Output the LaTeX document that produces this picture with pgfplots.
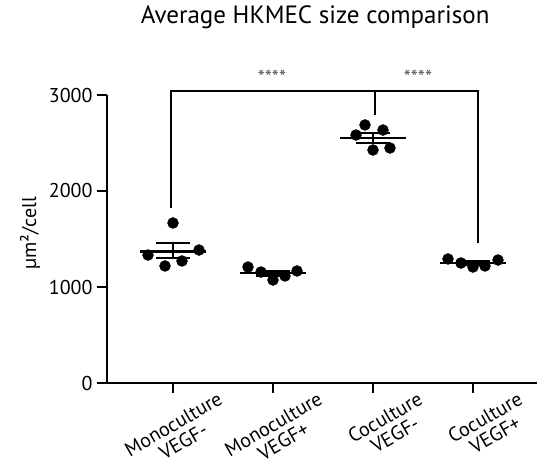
\documentclass[border=0pt]{standalone}
\usepackage{fontspec}
\setmainfont{PT Sans}
\usepackage{pgfplots}
\pgfplotsset{compat=1.18}

\begin{document}
\begin{tikzpicture}
\begin{axis}[
scale only axis,
width=430bp, height=288bp,
xmin=-0.66, xmax=3.64,
ymin=0, ymax=3000,
axis lines*=left,
axis line style={line width=2.4bp},
every tick/.style={line width=2.4bp, black},
major tick length=10bp,
tick align=outside,
clip=false,
xtick={0,1,2,3},
xticklabels={Monoculture\\VEGF-, Monoculture\\VEGF+, Coculture\\VEGF-, Coculture\\VEGF+},
xticklabel style={font=\fontsize{20bp}{20bp}\selectfont, align=center, anchor=north east, xshift=45bp, yshift=7bp, rotate=30},
ytick={0,1000,2000,3000},
yticklabel style={font=\fontsize{20bp}{20bp}\selectfont, xshift=-1bp},
/pgf/number format/assume math mode=true,
/pgf/number format/1000 sep={},
ylabel={µm²/cell},
ylabel style={font=\fontsize{20bp}{20bp}\selectfont, at={(axis description cs:-0.179,0.52)}, anchor=center},
title={Average HKMEC size comparison},
title style={font=\fontsize{25bp}{25bp}\selectfont, at={(axis description cs:0.484,1.25)}, anchor=center},
]
% individual values
\addplot[only marks, mark=*, mark size=5.5bp, black] coordinates {
(0,1667) (-0.25,1333) (-0.08,1219) (0.09,1271) (0.26,1385)
(0.75,1208) (0.88,1156) (1.0,1073) (1.12,1115) (1.24,1167)
(1.83,2583) (1.92,2688) (2.0,2427) (2.1,2635) (2.17,2448)
(2.75,1292) (2.88,1250) (3.0,1208) (3.12,1219) (3.25,1281)
};
% mean lines
\addplot[black, line width=2.4bp, unbounded coords=jump] coordinates {
(-0.33,1370) (0.33,1370) (0,nan)
(0.67,1146) (1.33,1146) (1,nan)
(1.67,2552) (2.33,2552) (2,nan)
(2.67,1250) (3.33,1250)
};
% SEM bars
\addplot[black, line width=2.4bp, unbounded coords=jump] coordinates {
(-0.17,1458) (0.17,1458) (0,nan) (0,1458) (0,1302) (0,nan) (-0.17,1302) (0.17,1302) (0,nan)
(0.83,1169) (1.17,1169) (1,nan) (0.83,1121) (1.17,1121) (1,nan)
(1.83,2604) (2.17,2604) (2,nan) (2,2604) (2,2500) (2,nan) (1.83,2500) (2.17,2500) (2,nan)
(2.83,1267) (3.17,1267) (3,nan) (2.83,1233) (3.17,1233)
};
% significance bracket
\addplot[black, line width=2.4bp, unbounded coords=jump] coordinates {
(-0.02,1823) (-0.02,3042) (3.05,3042) (3.05,1458) (0,nan)
(2.02,3042) (2.02,2792)
};
\node[text=black!65, font=\fontsize{20bp}{20bp}\selectfont] at (axis cs:0.99,3180) {****};
\node[text=black!65, font=\fontsize{20bp}{20bp}\selectfont] at (axis cs:2.45,3180) {****};
\end{axis}
\pgfresetboundingbox
\path (-107bp,-82bp) rectangle (431bp,383bp);
\end{tikzpicture}
\end{document}
